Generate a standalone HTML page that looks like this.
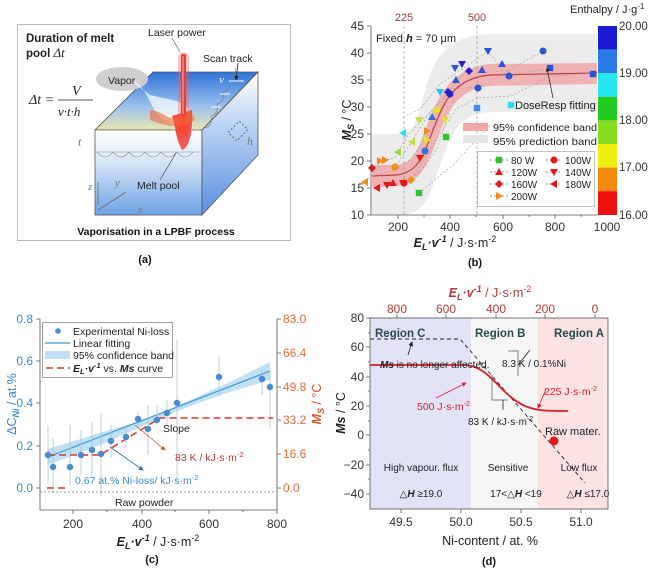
<!DOCTYPE html>
<html><head><meta charset="utf-8"><style>
body{margin:0;background:#fff}
svg{display:block;font-family:"Liberation Sans",sans-serif}
</style></head><body>
<svg width="650" height="568" viewBox="0 0 650 568" xmlns="http://www.w3.org/2000/svg">
<defs>
<g id="sq"><rect x="-3.2" y="-3.2" width="6.4" height="6.4"/></g>
<g id="ci"><circle r="3.5"/></g>
<g id="tu"><path d="M0,-4 L4,3 L-4,3Z"/></g>
<g id="td"><path d="M0,4 L4,-3 L-4,-3Z"/></g>
<g id="tl"><path d="M-4,0 L3,-4 L3,4Z"/></g>
<g id="tr"><path d="M4,0 L-3,-4 L-3,4Z"/></g>
<g id="di"><path d="M0,-4 L4,0 L0,4 L-4,0Z"/></g>
<linearGradient id="topf" x1="0" y1="0" x2="0" y2="1"><stop offset="0" stop-color="#2f73d9"/><stop offset="0.6" stop-color="#9cc2ef"/><stop offset="1" stop-color="#e9e6b0"/></linearGradient>
<linearGradient id="frontf" x1="0" y1="0" x2="0" y2="1"><stop offset="0" stop-color="#ffffff"/><stop offset="0.35" stop-color="#dbe8f8"/><stop offset="1" stop-color="#6ea2e6"/></linearGradient>
<linearGradient id="sidef" x1="0" y1="0" x2="0" y2="1"><stop offset="0" stop-color="#ffffff"/><stop offset="0.4" stop-color="#b7d1f3"/><stop offset="1" stop-color="#5a8fe0"/></linearGradient>
<radialGradient id="pool" cx="0.5" cy="0.3" r="0.7"><stop offset="0" stop-color="#ff3a2a"/><stop offset="1" stop-color="#e8241c" stop-opacity="0.7"/></radialGradient>
<marker id="ar" markerWidth="6" markerHeight="6" refX="5" refY="3" orient="auto"><path d="M0,0 L6,3 L0,6Z" fill="context-stroke"/></marker>
</defs>

<!-- ===== (a) ===== -->
<rect x="17.5" y="24.5" width="273" height="216" fill="#fff" stroke="#bbb"/>
<polygon points="153,72 258,72 202,130 95,130" fill="url(#topf)"/>
<polygon points="95,130 202,130 202,215 95,215" fill="url(#frontf)" stroke="#555" stroke-width="0.8"/>
<polygon points="202,130 258,72 258,155 202,215" fill="url(#sidef)" stroke="#555" stroke-width="0.8"/>
<polyline points="95,130 153,72 258,72 202,130" fill="none" stroke="#555" stroke-width="0.8"/>
<line x1="95" y1="152" x2="202" y2="152" stroke="#888" stroke-width="0.6"/>
<path d="M97,152 q8,10 16,0 q8,10 16,0 q8,10 16,0 q8,10 16,0 q8,10 16,0 q8,10 16,0" fill="none" stroke="#777" stroke-width="0.6"/>
<path d="M205,128 q8,-2 6,-12 q8,-2 6,-12 q8,-2 6,-12 q8,-2 6,-12 q8,-2 6,-12" fill="none" stroke="#777" stroke-width="0.6"/>
<rect x="230" y="125" width="16" height="12" fill="none" stroke="#666" stroke-dasharray="2,2" transform="rotate(-45 238 131)"/>
<ellipse cx="122" cy="79" rx="26" ry="12" fill="#cfcfcf"/>
<path d="M130,80 C150,85 150,115 165,120 C175,125 180,140 182,150 C192,150 195,125 190,112 C185,100 170,100 150,95Z" fill="#fff" opacity="0.7"/>
<path d="M172,116 C175,125 176,140 182,150 C190,148 193,130 192,110 Z" fill="url(#pool)"/>
<path d="M150,110 C165,112 168,120 175,118 L190,110 L195,120 C180,130 165,126 150,120Z" fill="#ef6a3a" opacity="0.6"/>
<rect x="181" y="54" width="5" height="62" rx="2" fill="#e52b2b"/>
<rect x="178" y="52" width="11" height="66" rx="5" fill="#ff5555" opacity="0.35"/>
<line x1="183" y1="56" x2="183" y2="114" stroke="#ffd9a0" stroke-width="0.8"/>
<line x1="172" y1="38" x2="180" y2="52" stroke="#555" stroke-width="0.7"/>
<line x1="160" y1="180" x2="176" y2="153" stroke="#444" stroke-width="0.7"/>
<line x1="238" y1="63" x2="236" y2="80" stroke="#222" stroke-width="0.8" marker-end="url(#ar)"/>
<text x="219" y="83" font-family="Liberation Serif" font-style="italic" fill="#fff" font-size="11">v</text>
<path d="M229,81 l15,0 M220,94 l10,0 M211,107 l10,0" stroke="#fff" stroke-width="1"/>
<path d="M98,205 L98,182 M98,210 L126,192 M98,215 L140,215" stroke="#666" stroke-width="0.8"/>
<text x="88" y="190" font-family="Liberation Serif" font-style="italic" font-size="11" fill="#777">z</text>
<text x="115" y="186" font-family="Liberation Serif" font-style="italic" font-size="11" fill="#777">y</text>
<text x="138" y="213" font-family="Liberation Serif" font-style="italic" font-size="11" fill="#777">x</text>
<text x="78" y="146" font-family="Liberation Serif" font-style="italic" font-size="12" fill="#777">t</text>
<text x="247" y="145" font-family="Liberation Serif" font-style="italic" font-size="12" fill="#777">h</text>
<text x="26" y="42" font-size="11.5" font-weight="bold" fill="#222">Duration of melt</text>
<text x="26" y="57" font-size="11.5" font-weight="bold" fill="#222">pool  <tspan font-family="Liberation Serif" font-weight="normal" font-style="italic" font-size="13">Δt</tspan></text>
<g font-family="Liberation Serif" font-style="italic" font-size="14" fill="#222">
<text x="29" y="104">Δt =</text>
<text x="72" y="95">V</text>
<line x1="58" y1="100" x2="93" y2="100" stroke="#222" stroke-width="0.8"/>
<text x="58" y="116" font-size="13">v·t·h</text>
</g>
<text x="148" y="36" font-size="10.5" fill="#222">Laser power</text>
<text x="203" y="62" font-size="10.5" fill="#222">Scan track</text>
<text x="108" y="84" font-size="10.5" fill="#222">Vapor</text>
<text x="137" y="189" font-size="10.5" fill="#222">Melt pool</text>
<text x="156" y="235" font-size="10.5" font-weight="bold" text-anchor="middle" fill="#111">Vaporisation in a LPBF process</text>
<text x="145" y="263" font-size="11" font-weight="bold" text-anchor="middle" fill="#111">(a)</text>

<!-- ===== (b) ===== -->
<path d="M372,134 L400,134 C420,134 420,100 430,75 C440,50 455,35 490,34 L597,34 L597,112 L490,112 C455,114 450,140 440,165 C430,195 425,215 400,215 L372,215 Z" fill="#ececec"/>
<path d="M372,165 L395,165 C418,164 420,140 430,118 C440,92 455,67 490,64 L597,63 L597,84 L490,86 C460,88 448,110 440,132 C430,158 422,186 395,186 L372,187 Z" fill="#f1a8a8" opacity="0.85"/>
<line x1="404" y1="26" x2="404" y2="215" stroke="#999" stroke-dasharray="3,2" stroke-width="0.7"/>
<line x1="477" y1="26" x2="477" y2="215" stroke="#999" stroke-dasharray="3,2" stroke-width="0.7"/>
<path d="M372,176 L395,175 C420,174 425,150 435,125 C445,100 455,78 490,75 L597,73" fill="none" stroke="#b8404a" stroke-width="1.2"/>
<g stroke="#999" stroke-dasharray="2,2" stroke-width="0.6" fill="none">
<polyline points="419,193 453,165 491,124"/>
<polyline points="365,182 385,160 395,158 408,135 430,112 450,92"/>
<polyline points="377,188 390,183 403,183 420,172 437,149 455,95"/>
<polyline points="372,176 395,170 411,159 434,126 449,89 480,87 543,51"/>
<polyline points="380,170 398,163 412,141 427,117 467,70"/>
<polyline points="410,182 430,150 456,109 477,98 511,96 550,76 594,73"/>
<polyline points="403,117 420,109 440,84 470,64 488,51 506,75 555,68"/>
</g>
<use href="#tl" x="365" y="182" fill="#f08a1a"/>
<use href="#tl" x="377" y="188" fill="#e8141b"/>
<use href="#di" x="372" y="168" fill="#e8141b"/>
<use href="#td" x="387" y="185" fill="#e8141b"/>
<use href="#tu" x="393" y="183" fill="#e8141b"/>
<use href="#tr" x="385" y="160" fill="#f08a1a"/>
<use href="#tr" x="380" y="161" fill="#f08a1a"/>
<use href="#ci" x="395" y="167" fill="#f08a1a"/>
<use href="#td" x="403" y="183" fill="#e8141b"/>
<use href="#ci" x="404" y="183" fill="#e8141b"/>
<use href="#di" x="411" y="180" fill="#f08a1a"/>
<use href="#tl" x="398" y="152" fill="#98d43a"/>
<use href="#tl" x="403" y="133" fill="#28e0f0"/>
<use href="#tl" x="412" y="142" fill="#c8e03a"/>
<use href="#sq" x="419" y="193" fill="#2ec52e"/>
<use href="#td" x="420" y="158" fill="#e8141b"/>
<use href="#td" x="419" y="120" fill="#c8e03a"/>
<use href="#ci" x="425" y="151" fill="#3a6ee0"/>
<use href="#tr" x="427" y="131" fill="#f08a1a"/>
<use href="#tr" x="427" y="140" fill="#e8e020"/>
<use href="#tu" x="432" y="117" fill="#3a6ee0"/>
<use href="#ci" x="437" y="110" fill="#e8e020"/>
<use href="#td" x="440" y="92" fill="#28c0f0"/>
<use href="#td" x="445" y="120" fill="#e8e020"/>
<use href="#sq" x="446" y="137" fill="#2ec52e"/>
<use href="#di" x="448" y="92" fill="#2a1ec8"/>
<use href="#ci" x="450" y="94" fill="#2a1ec8"/>
<use href="#td" x="455" y="68" fill="#2b55d6"/>
<use href="#tu" x="456" y="80" fill="#2b55d6"/>
<use href="#td" x="462" y="64" fill="#2a1ec8"/>
<use href="#di" x="469" y="71" fill="#2a1ec8"/>
<use href="#tu" x="482" y="70" fill="#2b55d6"/>
<use href="#td" x="488" y="51" fill="#2b55d6"/>
<use href="#ci" x="478" y="88" fill="#2b55d6"/>
<use href="#sq" x="477" y="108" fill="#3a8ee8"/>
<use href="#tu" x="502" y="64" fill="#2b55d6"/>
<use href="#ci" x="509" y="76" fill="#2b55d6"/>
<use href="#sq" x="511" y="105" fill="#28e0f0"/>
<use href="#ci" x="543" y="51" fill="#2b55d6"/>
<use href="#sq" x="550" y="68" fill="#2b55d6"/>
<use href="#sq" x="593" y="74" fill="#2b55d6"/>
<line x1="553" y1="98" x2="547" y2="68" stroke="#222" stroke-width="0.7" marker-end="url(#ar)"/>
<text x="515" y="109" font-size="11" fill="#222">DoseResp fitting</text>
<text x="376" y="42" font-size="11" fill="#222">Fixed <tspan font-weight="bold" font-style="italic">h</tspan> = 70 μm</text>
<text x="404" y="21" font-size="11" fill="#9a3a3a" text-anchor="middle">225</text>
<text x="477" y="21" font-size="11" fill="#9a3a3a" text-anchor="middle">500</text>
<rect x="463" y="123" width="25" height="8" fill="#f1a8a8"/>
<text x="493" y="131" font-size="10.5" fill="#222" textLength="104" lengthAdjust="spacingAndGlyphs">95% confidence band</text>
<rect x="463" y="135" width="25" height="8" fill="#e6e6e6"/>
<text x="493" y="145" font-size="10.5" fill="#222" textLength="104" lengthAdjust="spacingAndGlyphs">95% prediction band</text>
<rect x="477.5" y="151.5" width="117" height="55" fill="#fff" stroke="#999" stroke-width="0.6"/>
<g font-size="10" fill="#222">
<line x1="490" y1="160" x2="508" y2="160" stroke="#999" stroke-dasharray="2,2"/><use href="#sq" x="499" y="160" fill="#2ec52e"/><text x="511" y="164">80 W</text>
<line x1="490" y1="172" x2="508" y2="172" stroke="#999" stroke-dasharray="2,2"/><use href="#tu" x="499" y="172" fill="#e8141b"/><text x="511" y="176">120W</text>
<line x1="490" y1="184" x2="508" y2="184" stroke="#999" stroke-dasharray="2,2"/><use href="#di" x="499" y="184" fill="#e8141b"/><text x="511" y="188">160W</text>
<line x1="490" y1="196" x2="508" y2="196" stroke="#999" stroke-dasharray="2,2"/><use href="#tr" x="499" y="196" fill="#f08a1a"/><text x="511" y="200">200W</text>
<line x1="546" y1="160" x2="562" y2="160" stroke="#999" stroke-dasharray="2,2"/><use href="#ci" x="554" y="160" fill="#e8141b"/><text x="565" y="164">100W</text>
<line x1="546" y1="172" x2="562" y2="172" stroke="#999" stroke-dasharray="2,2"/><use href="#td" x="554" y="172" fill="#e8141b"/><text x="565" y="176">140W</text>
<line x1="546" y1="184" x2="562" y2="184" stroke="#999" stroke-dasharray="2,2"/><use href="#tl" x="554" y="184" fill="#e8141b"/><text x="565" y="188">180W</text>
</g>
<!-- axes b -->
<g stroke="#555" stroke-width="0.8" fill="none">
<polyline points="371,26 371,215 598,215"/>
<path d="M371,26h-4M371,53h-4M371,80h-4M371,107h-4M371,134h-4M371,161h-4M371,188h-4M371,215h-4M398,215v4M450,215v4M503,215v4M555,215v4M424,215v2M476,215v2M529,215v2M581,215v2"/>
</g>
<g font-size="12" fill="#333" text-anchor="end">
<text x="364" y="30">45</text><text x="364" y="57">40</text><text x="364" y="84">35</text><text x="364" y="111">30</text><text x="364" y="138">25</text><text x="364" y="165">20</text><text x="364" y="192">15</text><text x="364" y="219">10</text>
</g>
<g font-size="12" fill="#333" text-anchor="middle">
<text x="398" y="231">200</text><text x="450" y="231">400</text><text x="503" y="231">600</text><text x="555" y="231">800</text><text x="607" y="231">1000</text>
</g>
<text x="455" y="247" font-size="12.5" fill="#222" text-anchor="middle"><tspan font-weight="bold" font-style="italic">E<tspan font-size="9" dy="3">L</tspan><tspan dy="-3">·v</tspan><tspan font-size="9" dy="-5">-1</tspan></tspan><tspan dy="5"> / J·s·m</tspan><tspan font-size="9" dy="-5">-2</tspan></text>
<text transform="translate(351,120) rotate(-90)" font-size="12.5" fill="#222" text-anchor="middle"><tspan font-weight="bold" font-style="italic">M<tspan font-size="9" dy="3">S</tspan></tspan><tspan dy="-3"> / °C</tspan></text>
<text x="475" y="266" font-size="11" font-weight="bold" text-anchor="middle" fill="#111">(b)</text>
<!-- colorbar -->
<rect x="598" y="26" width="19" height="23.6" fill="#1a1ad2"/>
<rect x="598" y="49.6" width="19" height="23.6" fill="#2a7ae8"/>
<rect x="598" y="73.2" width="19" height="23.6" fill="#22e6f0"/>
<rect x="598" y="96.8" width="19" height="23.6" fill="#20cc20"/>
<rect x="598" y="120.4" width="19" height="23.6" fill="#88dd22"/>
<rect x="598" y="144" width="19" height="23.6" fill="#f0f010"/>
<rect x="598" y="167.6" width="19" height="23.6" fill="#f58a10"/>
<rect x="598" y="191.2" width="19" height="23.8" fill="#f01010"/>
<g font-size="11.5" fill="#333">
<text x="619" y="30">20.00</text><text x="619" y="77">19.00</text><text x="619" y="124">18.00</text><text x="619" y="171">17.00</text><text x="619" y="219">16.00</text>
</g>
<text x="570" y="13" font-size="11" fill="#222">Enthalpy / J·g<tspan font-size="8" dy="-4">-1</tspan></text>

<!-- ===== (c) ===== -->
<polygon points="48,449 100,433 150,418 190,400 230,382 270,362 270,380 230,392 190,406 150,423 100,445 48,465" fill="#bfe0f5"/>
<line x1="48" y1="457" x2="270" y2="371" stroke="#3a9ad8" stroke-width="1.2"/>
<g stroke="#a8c4d8" stroke-width="0.8">
<path d="M48,426v58M53,438v55M70,425v60M81,430v46M92,422v56M101,413v83M111,425v33M126,425v23M138,412v14M148,405v50M157,405v20M167,400v25M177,340v139M219,356v40M262,370v25M270,372v56"/>
</g>
<path d="M47,488h21 M48,455h52 L160,418 L273,418" fill="none" stroke="#d83a2a" stroke-width="1.5" stroke-dasharray="7,4"/>
<line x1="40" y1="492" x2="277" y2="492" stroke="#333" stroke-width="0.6" stroke-dasharray="2,2"/>
<g fill="#4a8fd6" stroke="#2e6aa8" stroke-width="0.4">
<circle cx="48" cy="455" r="3"/><circle cx="53" cy="467" r="3"/><circle cx="70" cy="467" r="3"/><circle cx="81" cy="455" r="3"/><circle cx="92" cy="450" r="3"/><circle cx="101" cy="454" r="3"/><circle cx="111" cy="441" r="3"/><circle cx="126" cy="437" r="3"/><circle cx="138" cy="419" r="3"/><circle cx="148" cy="429" r="3"/><circle cx="157" cy="420" r="3"/><circle cx="167" cy="413" r="3"/><circle cx="177" cy="403" r="3"/><circle cx="219" cy="377" r="3"/><circle cx="262" cy="379" r="3"/><circle cx="270" cy="387" r="3"/>
</g>
<line x1="110" y1="447" x2="143" y2="470" stroke="#2e6ab8" stroke-width="0.8" marker-end="url(#ar)"/>
<line x1="135" y1="425" x2="165" y2="450" stroke="#c05a3a" stroke-width="0.8" marker-end="url(#ar)"/>
<text x="163" y="432" font-size="10.5" fill="#222">Slope</text>
<text x="175" y="461" font-size="10.5" fill="#b83a3a">83 K /  kJ·s·m<tspan font-size="7.5" dy="-4">-2</tspan></text>
<text x="75" y="484" font-size="10.5" fill="#3a8ad0">0.67 at.% Ni-loss/  kJ·s·m<tspan font-size="7.5" dy="-4">-2</tspan></text>
<text x="115" y="506" font-size="10.5" fill="#222">Raw powder</text>
<rect x="42.5" y="322.5" width="130" height="55" fill="#fff" stroke="#666" stroke-width="0.6"/>
<g font-size="10.5" fill="#222">
<circle cx="58" cy="331" r="2.8" fill="#4a8fd6"/><text x="73" y="335">Experimental Ni-loss</text>
<line x1="45" y1="343" x2="70" y2="343" stroke="#3a9ad8" stroke-width="1.2"/><text x="73" y="347">Linear fitting</text>
<rect x="45" y="351" width="25" height="8" fill="#bfe0f5"/><text x="73" y="359">95% confidence band</text>
<line x1="46" y1="368" x2="70" y2="368" stroke="#d83a2a" stroke-width="1.5" stroke-dasharray="7,4"/><text x="73" y="372"><tspan font-weight="bold" font-style="italic">E<tspan font-size="7.5" dy="2">L</tspan><tspan dy="-2">·v</tspan><tspan font-size="7.5" dy="-4">-1</tspan></tspan><tspan dy="4"> vs. </tspan><tspan font-weight="bold" font-style="italic">Ms</tspan> curve</text>
</g>
<g stroke="#555" stroke-width="0.8" fill="none">
<polyline points="40,319 40,510 277,510 277,319"/>
<path d="M40,319h-4M40,361h-4M40,403h-4M40,446h-4M40,488h-4M73,510v4M142,510v4M209,510v4M277,510v4M107,510v2M175,510v2M243,510v2M277,319h4M277,353h4M277,387h4M277,420h4M277,454h4M277,488h4"/>
</g>
<g font-size="12" fill="#3a8ad0" text-anchor="end">
<text x="33" y="323">0.8</text><text x="33" y="365">0.6</text><text x="33" y="407">0.4</text><text x="33" y="450">0.2</text><text x="33" y="492">0.0</text>
</g>
<g font-size="12" fill="#e06a3a">
<text x="283" y="323">83.0</text><text x="283" y="357">66.4</text><text x="283" y="391">49.8</text><text x="283" y="424">33.2</text><text x="283" y="458">16.6</text><text x="283" y="492">0.0</text>
</g>
<g font-size="12" fill="#333" text-anchor="middle">
<text x="73" y="528">200</text><text x="142" y="528">400</text><text x="209" y="528">600</text><text x="277" y="528">800</text>
</g>
<text x="158" y="546" font-size="12.5" fill="#222" text-anchor="middle"><tspan font-weight="bold" font-style="italic">E<tspan font-size="9" dy="3">L</tspan><tspan dy="-3">·v</tspan><tspan font-size="9" dy="-5">-1</tspan></tspan><tspan dy="5"> / J·s·m</tspan><tspan font-size="9" dy="-5">-2</tspan></text>
<text transform="translate(16,404) rotate(-90)" font-size="12.5" fill="#3a8ad0" text-anchor="middle">ΔC<tspan font-size="9" dy="3" font-weight="bold" font-style="italic">Ni</tspan><tspan dy="-3"> / at.%</tspan></text>
<text transform="translate(321,404) rotate(-90)" font-size="12.5" fill="#d8542a" text-anchor="middle"><tspan font-weight="bold" font-style="italic">M<tspan font-size="9" dy="3">S</tspan></tspan><tspan dy="-3"> / °C</tspan></text>
<text x="152" y="563" font-size="11" font-weight="bold" text-anchor="middle" fill="#111">(c)</text>

<!-- ===== (d) ===== -->
<rect x="370" y="318" width="101" height="191" fill="#e3e3f8"/>
<rect x="471" y="318" width="67" height="191" fill="#f6f6f6"/>
<rect x="538" y="318" width="70" height="191" fill="#fbe3e3"/>
<path d="M370,339 L460,339 L585,483" fill="none" stroke="#222" stroke-width="0.9" stroke-dasharray="4,3"/>
<path d="M370,365 L465,365 C490,366 500,395 525,406 C535,410 540,411 568,411" fill="none" stroke="#d82028" stroke-width="1.8"/>
<circle cx="554" cy="441" r="4.5" fill="#e81818"/>
<path d="M492,375 L492,400 L508,400 M518,376 L518,351 L508,351" fill="none" stroke="#555" stroke-width="0.7"/>
<line x1="503" y1="400" x2="503" y2="410" stroke="#222" stroke-width="0.8"/>
<line x1="518" y1="365" x2="530" y2="350" stroke="#222" stroke-width="0.8"/>
<line x1="408" y1="355" x2="412" y2="342" stroke="#222" stroke-width="0.8" marker-end="url(#ar)"/>
<line x1="436" y1="398" x2="466" y2="383" stroke="#d82028" stroke-width="0.8" marker-end="url(#ar)"/>
<line x1="546" y1="389" x2="538" y2="408" stroke="#d82028" stroke-width="0.8" marker-end="url(#ar)"/>
<g font-size="11.5" font-weight="bold" fill="#2a4a4a">
<text x="375" y="337">Region C</text><text x="475" y="337">Region B</text><text x="554" y="337">Region A</text>
</g>
<g font-size="10" fill="#222">
<text x="380" y="368"><tspan font-weight="bold" font-style="italic">Ms</tspan> is no longer affected.</text>
<text x="502" y="367">8.3 K / 0.1%Ni</text>
<text x="468" y="425">83 K / kJ·s·m<tspan font-size="7" dy="-4">-2</tspan></text>
<text x="545" y="435" font-size="11">Raw mater.</text>
<text x="421" y="471" text-anchor="middle">High vapour. flux</text>
<text x="508" y="471" text-anchor="middle">Sensitive</text>
<text x="579" y="471" text-anchor="middle">Low flux</text>
<text x="421" y="497" text-anchor="middle">△<tspan font-weight="bold" font-style="italic">H</tspan> ≥19.0</text>
<text x="516" y="497" text-anchor="middle">17&lt;△<tspan font-weight="bold" font-style="italic">H</tspan> &lt;19</text>
<text x="588" y="497" text-anchor="middle">△<tspan font-weight="bold" font-style="italic">H</tspan> ≤17.0</text>
</g>
<text x="544" y="395" font-size="10.5" fill="#d82028">225 J·s·m<tspan font-size="7" dy="-4">-2</tspan></text>
<text x="417" y="410" font-size="10.5" fill="#d82028">500 J·s·m<tspan font-size="7" dy="-4">-2</tspan></text>
<g stroke="#555" stroke-width="0.8" fill="none">
<rect x="370" y="318" width="238" height="191"/>
<path d="M370,318h-4M370,347h-4M370,377h-4M370,406h-4M370,435h-4M370,465h-4M370,494h-4M370,333h-2M370,362h-2M370,391h-2M370,421h-2M370,450h-2M370,479h-2M401,509v4M461,509v4M521,509v4M581,509v4M397,318v-4M446,318v-4M496,318v-4M545,318v-4M595,318v-4"/>
</g>
<g font-size="12" fill="#333" text-anchor="end">
<text x="364" y="322">80</text><text x="364" y="351">60</text><text x="364" y="381">40</text><text x="364" y="410">20</text><text x="364" y="439">0</text><text x="364" y="469">−20</text><text x="364" y="498">−40</text>
</g>
<g font-size="12" fill="#333" text-anchor="middle">
<text x="401" y="526">49.5</text><text x="461" y="526">50.0</text><text x="521" y="526">50.5</text><text x="581" y="526">51.0</text>
</g>
<g font-size="12" fill="#b83a3a" text-anchor="middle">
<text x="397" y="313">800</text><text x="446" y="313">600</text><text x="496" y="313">400</text><text x="545" y="313">200</text><text x="595" y="313">0</text>
</g>
<text x="490" y="297" font-size="12.5" fill="#b83a3a" text-anchor="middle"><tspan font-weight="bold" font-style="italic">E<tspan font-size="9" dy="3">L</tspan><tspan dy="-3">·v</tspan><tspan font-size="9" dy="-5">-1</tspan></tspan><tspan dy="5"> / J·s·m</tspan><tspan font-size="9" dy="-5">-2</tspan></text>
<text x="490" y="545" font-size="12.5" fill="#222" text-anchor="middle">Ni-content / at. %</text>
<text transform="translate(345,413) rotate(-90)" font-size="12.5" fill="#222" text-anchor="middle"><tspan font-weight="bold" font-style="italic">Ms</tspan> / °C</text>
<text x="489" y="565" font-size="11" font-weight="bold" text-anchor="middle" fill="#111">(d)</text>
</svg>
</body></html>
